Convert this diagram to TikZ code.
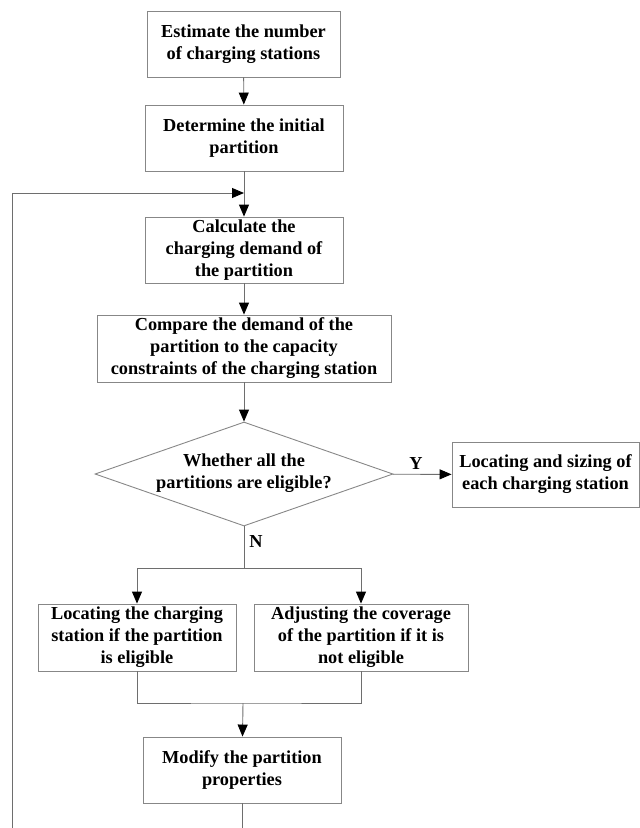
\documentclass[tikz,border=0pt]{standalone}
\usepackage{fontspec}
\setmainfont{Liberation Serif}
\usetikzlibrary{arrows.meta,shapes.geometric}
\definecolor{boxline}{RGB}{135,135,135}
\definecolor{conline}{RGB}{110,110,110}
\begin{document}
\begin{tikzpicture}[x=1pt,y=-1pt,
  txt/.style={font=\fontsize{18.3}{22}\selectfont\bfseries, align=center, inner sep=0pt},
  stepbox/.style={txt, draw=boxline, line width=0.9pt, rectangle},
  con/.style={draw=conline, line width=0.9pt},
  arr/.style={con, -{Triangle[length=12pt,width=10pt,color=black]}}]
\useasboundingbox (0,0) rectangle (640,828);
\node[stepbox, minimum width=193, minimum height=66] (b1) at (243.5,44) {Estimate the number\\of charging stations};
\node[stepbox, minimum width=198, minimum height=66] (b2) at (244,138) {Determine the initial\\partition};
\node[stepbox, minimum width=198, minimum height=66] (b3) at (244,250) {Calculate the\\charging demand of\\the partition};
\node[stepbox, minimum width=294, minimum height=67] (b4) at (244,348.5) {Compare the demand of the\\partition to the capacity\\constraints of the charging station};
\node[diamond, draw=boxline, line width=0.9pt, minimum width=298, minimum height=104, inner sep=0pt] (d) at (244,474) {};
\node[txt] (dt) at (244,473.5) {Whether all the\\partitions are eligible?};
\node[stepbox, minimum width=187, minimum height=65] (r) at (545.5,474.5) {Locating and sizing of\\each charging station};
\node[stepbox, minimum width=198, minimum height=67] (b5) at (137,637.5) {Locating the charging\\station if the partition\\is eligible};
\node[stepbox, minimum width=214, minimum height=67] (b6) at (361,637.5) {Adjusting the coverage\\of the partition if it is\\not eligible};
\node[stepbox, minimum width=198, minimum height=66] (b7) at (242,770) {Modify the partition\\properties};
\node[txt] (ly) at (416,464) {Y};
\node[txt] (ln) at (256,542) {N};
\coordinate (join) at (244,193);
\coordinate (split) at (244,568);
\coordinate (merge) at (243,703);
\coordinate (bend) at (242,828);
\coordinate (lb) at (12,828);
\coordinate (lt) at (12,193);
\draw[arr] (b1) -- (b2);
\draw[con] (b2) -- (join);
\draw[arr] (join) -- (b3);
\draw[arr] (b3) -- (b4);
\draw[arr] (b4) -- (d);
\draw[arr] (d) -- (r);
\draw[con] (d.south) -- (split);
\draw[arr] (split) -| (b5.north);
\draw[arr] (split) -| (b6.north);
\draw[con] (b5.south) |- (merge) -| (b6.south);
\draw[arr] (merge) -- (b7);
\draw[con] (b7) -- (bend);
\draw[arr] (lb) -- (lt) -- (join);
\end{tikzpicture}
\end{document}
